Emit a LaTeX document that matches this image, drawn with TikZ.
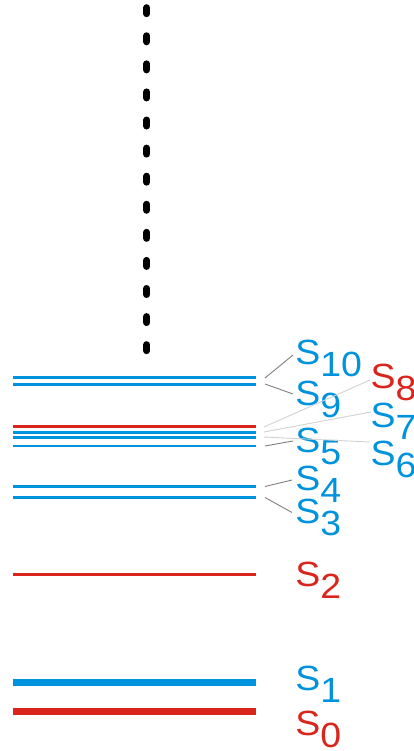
\documentclass[tikz,border=0pt]{standalone}
\usepackage{fontspec}
\setmainfont[FakeStretch=1.07]{Liberation Sans}
\definecolor{lvblue}{RGB}{0,147,221}
\definecolor{lvred}{RGB}{218,37,29}
\definecolor{leaddark}{RGB}{128,128,128}
\definecolor{leadlight}{RGB}{210,210,210}
\newcommand{\stlab}[1]{S\raisebox{-12.5pt}{#1}}
\begin{document}
\begin{tikzpicture}[x=1pt,y=-1pt,
  thinlv/.style={line width=2.8pt},
  thicklv/.style={line width=7pt},
  lab/.style={anchor=base west,inner sep=0pt,font=\fontsize{35}{40}\selectfont},
  leaddk/.style={draw=leaddark,line width=0.9pt},
  leadlt/.style={draw=leadlight,line width=0.9pt},
  dots/.style={line width=7pt,line cap=round,dash pattern=on 6pt off 22.08pt}]
\useasboundingbox (0,0) rectangle (413,751);
\fill[white] (0,0) rectangle (413,751);
% dashed vertical
\coordinate (vtop) at (146.7,7.7);
\coordinate (vbot) at (146.7,350.9);
\draw[dots] (vtop) -- (vbot);
% levels
\foreach \n/\y/\c/\s in {10/377.2/lvblue/thinlv, 9/384.2/lvblue/thinlv, 8/426.7/lvred/thinlv,
  7/432.5/lvblue/thinlv, 6/437.5/lvblue/thinlv, 5/446/lvblue/thinlv, 4/486.6/lvblue/thinlv,
  3/497.5/lvblue/thinlv, 2/574.7/lvred/thinlv, 1/682.7/lvblue/thicklv, 0/711.7/lvred/thicklv}{
  \coordinate (L\n a) at (12.7,\y);
  \coordinate (L\n b) at (255.7,\y);
  \draw[\s,draw=\c] (L\n a) -- (L\n b);
}
% labels
\node[lab,text=lvblue] (T10) at (295.2,364) {\stlab{10}};
\node[lab,text=lvblue] (T9) at (295.2,405) {\stlab{9}};
\node[lab,text=lvred] (T8) at (370.4,388) {\stlab{8}};
\node[lab,text=lvblue] (T7) at (370.4,427) {\stlab{7}};
\node[lab,text=lvblue] (T6) at (370.4,465) {\stlab{6}};
\node[lab,text=lvblue] (T5) at (295.2,452) {\stlab{5}};
\node[lab,text=lvblue] (T4) at (295.2,490) {\stlab{4}};
\node[lab,text=lvblue] (T3) at (295.2,523) {\stlab{3}};
\node[lab,text=lvred] (T2) at (295.2,586) {\stlab{2}};
\node[lab,text=lvblue] (T1) at (295.2,690) {\stlab{1}};
\node[lab,text=lvred] (T0) at (295.2,735) {\stlab{0}};
% leader lines
\coordinate (A10) at (265,378); \coordinate (B10) at (293,355);
\coordinate (A9) at (265,384); \coordinate (B9) at (293,394);
\coordinate (A8) at (264,427); \coordinate (B8) at (370,380);
\coordinate (A7) at (264,432); \coordinate (B7) at (371,412);
\coordinate (A6) at (264,437); \coordinate (B6) at (370,442);
\coordinate (A5) at (265,446); \coordinate (B5) at (293,441);
\coordinate (A4) at (265,486.5); \coordinate (B4) at (292,480);
\coordinate (A3) at (265,497.5); \coordinate (B3) at (292,512.5);
\draw[leadlt] (A8) -- (B8);
\draw[leadlt] (A7) -- (B7);
\draw[leadlt] (A6) -- (B6);
\draw[leaddk] (A10) -- (B10);
\draw[leaddk] (A9) -- (B9);
\draw[leaddk] (A5) -- (B5);
\draw[leaddk] (A4) -- (B4);
\draw[leaddk] (A3) -- (B3);
\end{tikzpicture}
\end{document}
